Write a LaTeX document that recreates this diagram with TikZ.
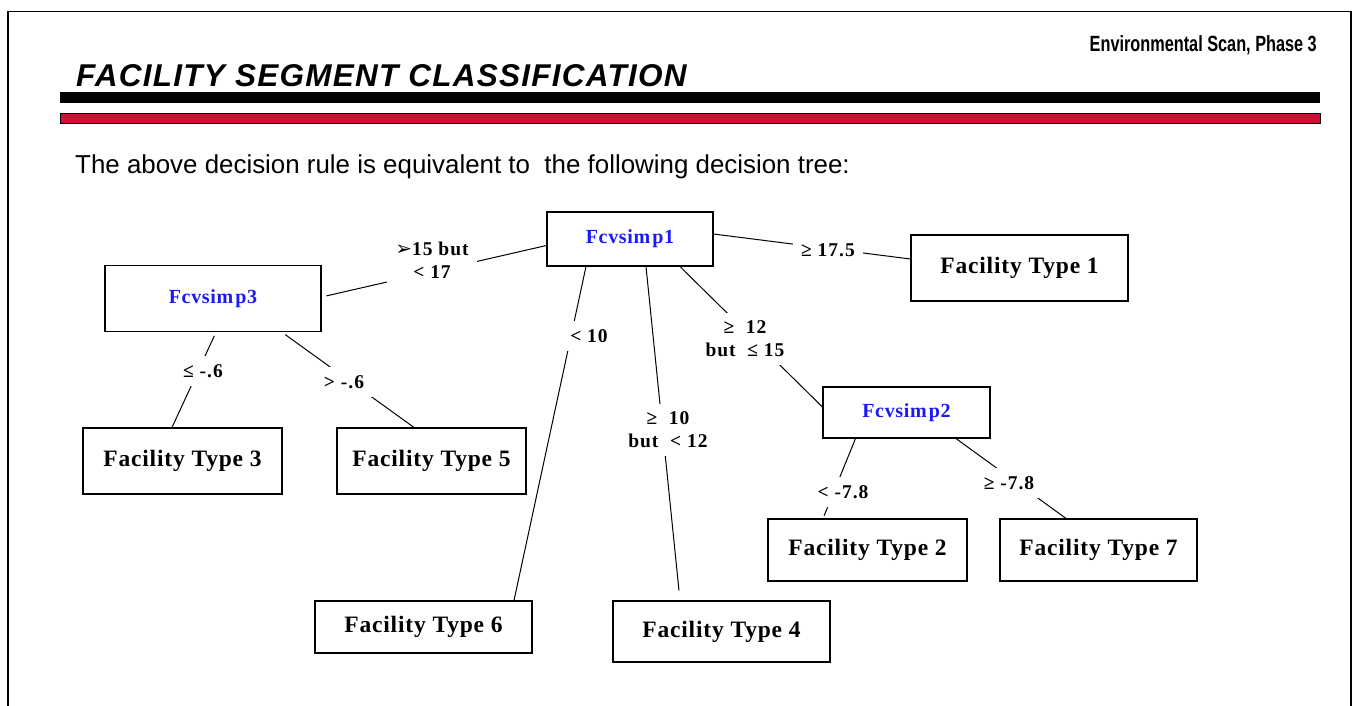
\documentclass[tikz,border=0pt]{standalone}
\usepackage{fontspec}
\usepackage{xcolor}
\setmainfont{Liberation Serif}
\setsansfont{Liberation Sans}
\newfontfamily\treefont[LetterSpace=3.5]{Liberation Serif}
\newfontfamily\condfont[LetterSpace=5]{Liberation Serif}
\newfontfamily\titlefont[LetterSpace=4]{Liberation Sans}
\newfontfamily\phasefont[FakeStretch=0.74]{Liberation Sans}
\newfontfamily\arrowfont{DejaVu Sans}
\usetikzlibrary{positioning}

\definecolor{barred}{RGB}{206,17,52}
\definecolor{splitblue}{RGB}{25,25,250}

\tikzset{
    split/.style={draw, line width=1.1pt, inner sep=0pt, text=splitblue,
        font=\treefont\bfseries\fontsize{20}{22}\selectfont},
    leaf/.style={draw, line width=1.1pt, inner sep=0pt,
        font=\treefont\bfseries\fontsize{23.5}{25}\selectfont},
    cond/.style={fill=white, inner xsep=8pt, inner ysep=8pt, align=center,
        font=\condfont\bfseries\fontsize{19.5}{23}\selectfont},
    link/.style={line width=1pt},
}

\begin{document}
\begin{tikzpicture}[x=1pt, y=-1pt]
    \useasboundingbox (0,0) rectangle (1353,706);
    % 外框
    \draw[line width=2.2pt] (7.7,706) -- (7.7,11.5);
    \draw[line width=2.2pt] (1351,706) -- (1351,11.5);
    \draw[line width=1.4pt] (7,11.5) -- (1352,11.5);

    % 标题栏
    \node[anchor=base east, inner sep=0pt, font=\phasefont\bfseries\fontsize{22}{24}\selectfont] (phase) at (1317,52) {Environmental Scan, Phase 3};
    \node[anchor=base west, inner sep=0pt, font=\titlefont\bfseries\itshape\fontsize{31.5}{34}\selectfont] (title) at (76,87) {FACILITY SEGMENT CLASSIFICATION};
    \fill (60,92) rectangle (1320,103);
    \filldraw[fill=barred, line width=0.8pt] (60,113.5) rectangle (1320,123.5);
    \node[anchor=base west, inner sep=0pt, font=\sffamily\fontsize{25.9}{28}\selectfont] (intro) at (75,174) {The above decision rule is equivalent to\ \ the following decision tree:};

    % 分裂节点
    \node[split, minimum width=166pt, minimum height=54pt] (fone) at (630,239) {Fcvsim\hspace{2pt}p1};
    \node[split, minimum width=216pt, minimum height=66pt] (fthree) at (213,298.7) {Fcvsim\hspace{2pt}p3};
    \node[split, minimum width=167pt, minimum height=51pt] (ftwo) at (906.5,412.5) {Fcvsim\hspace{2pt}p2};

    % 叶节点
    \foreach \n/\x/\y/\w/\h in {1/1019.5/268/217/66, 3/182.5/461/199/66, 5/431.5/461/189/66,
        2/867.5/550/199/62, 7/1098.5/550/197/62, 6/423.5/627/217/52, 4/721.5/631.5/217/61}
        \node[leaf, minimum width=\w pt, minimum height=\h pt] (type\n) at (\x,\y) {Facility Type \n};

    % 连线
    \draw[link] ([yshift=5pt]fone.east) -- ([yshift=9pt]type1.west);
    \draw[link, shorten >=5pt] ([yshift=-6.5pt]fone.west) -- ([yshift=1.7pt]fthree.east);
    \draw[link, shorten <=4pt] ([xshift=3pt]fthree.south) -- ([xshift=-10.5pt]type3.north);
    \draw[link, shorten <=4pt] ([xshift=69pt]fthree.south) -- ([xshift=-17.5pt]type5.north);
    \draw[link] ([xshift=-44pt]fone.south) -- ([xshift=90.5pt]type6.north);
    \draw[link, shorten >=10pt] ([xshift=16pt]fone.south) -- ([xshift=-41.5pt]type4.north);
    \draw[link] ([xshift=50pt]fone.south) -- ([yshift=5.5pt]ftwo.west);
    \draw[link, shorten >=3pt] ([xshift=-51pt]ftwo.south) -- ([xshift=-44.5pt]type2.north);
    \draw[link] ([xshift=49.5pt]ftwo.south) -- ([xshift=-32.5pt]type7.north);

    % 分支条件
    \node[cond] (c1) at (828,250) {≥ 17.5};
    \node[cond] (c2) at (432,260) {{\arrowfont\mdseries\fontsize{20}{23}\selectfont ➢}15 but\\< 17};
    \node[cond] (c3) at (203,371) {≤ -.6};
    \node[cond] (c4) at (344,382) {> -.6};
    \node[cond] (c5) at (589,336) {< 10};
    \node[cond] (c6) at (668,430) {≥~ 10\\but~ < 12};
    \node[cond] (c7) at (745,339) {≥~ 12\\but~ ≤ 15};
    \node[cond] (c8) at (843,492) {< -7.8};
    \node[cond] (c9) at (1009,483) {≥ -7.8};
\end{tikzpicture}
\end{document}
